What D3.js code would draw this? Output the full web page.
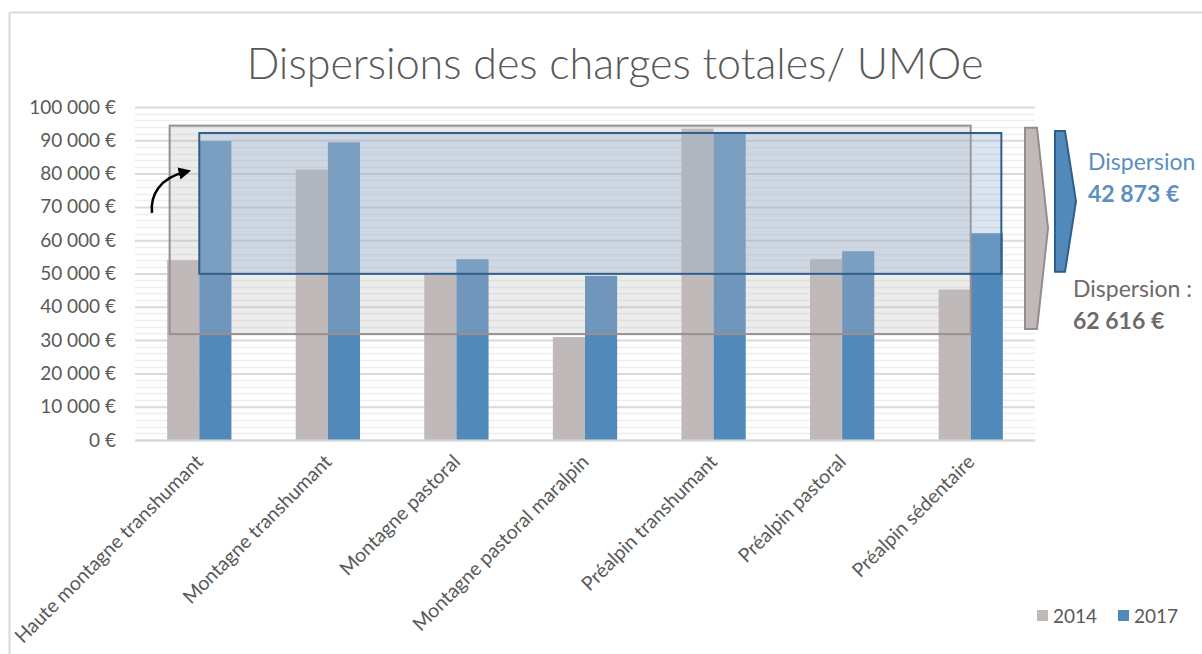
<!DOCTYPE html>
<html>
<head>
<meta charset="utf-8">
<script src="https://cdn.jsdelivr.net/npm/d3@7"></script>
<style>
  body { margin: 0; background: #fff; }
  text { font-family: Lato, "Open Sans", sans-serif; }
</style>
</head>
<body>
<div id="chart"></div>
<script>
// data
const categories = ["Haute montagne transhumant", "Montagne transhumant", "Montagne pastoral",
  "Montagne pastoral maralpin", "Préalpin transhumant", "Préalpin pastoral", "Préalpin sédentaire"]
const years = ["2014", "2017"]
const values2014 = [54000, 81200, 50200, 30900, 93500, 54300, 45200]
const values2017 = [89800, 89400, 54300, 49300, 92200, 56700, 62100]
const yTicks = [0, 10000, 20000, 30000, 40000, 50000, 60000, 70000, 80000, 90000, 100000]
const dispersion2014 = "62 616 €"
const dispersion2017 = "42 873 €"

const W = 1202, H = 654
let margin = {top: 107, right: 167, bottom: 214, left: 135}
let pxX = W - margin.left - margin.right,
    pxY = H - margin.top - margin.bottom

let colors = {"2014": "#bfb9b9", "2017": "#5289bb"}
let series = {"2014": values2014, "2017": values2017}

let svg = d3.select("#chart").append("svg")
    .attr("width", W).attr("height", H)

// chart border (only top/left visible)
svg.append("line").attr("x1", 9.5).attr("x2", W).attr("y1", 12.5).attr("y2", 12.5)
    .attr("stroke", "#d9d9d9").attr("stroke-width", 2)
svg.append("line").attr("x1", 9.5).attr("x2", 9.5).attr("y1", 12.5).attr("y2", H)
    .attr("stroke", "#d9d9d9").attr("stroke-width", 2)

svg.append("text")
    .attr("x", 615).attr("y", 79)
    .attr("text-anchor", "middle")
    .attr("font-size", 43).attr("font-weight", 300)
    .attr("fill", "#595959")
    .text("Dispersions des charges totales/ UMOe")

let g = svg.append("g").attr("transform", `translate(${margin.left},${margin.top})`)

let scX = d3.scaleBand().domain(categories).range([0, pxX]).paddingInner(0.5).paddingOuter(0.25)
let scY = d3.scaleLinear().domain([0, 100000]).range([pxY, 0])

// minor grid every 2000
let minor = d3.range(0, 100001, 2000).filter(v => v % 10000 !== 0)
g.append("g").selectAll("line").data(minor).enter().append("line")
    .attr("x1", 0).attr("x2", pxX)
    .attr("y1", d => Math.round(scY(d)) + 0.5).attr("y2", d => Math.round(scY(d)) + 0.5)
    .attr("stroke", "#eeeeee").attr("stroke-width", 1.5)

// major grid
const yGrid = d3.axisLeft(scY).tickValues(yTicks).tickSize(-pxX).tickFormat("")
g.append("g").call(yGrid)
    .call(a => a.select(".domain").remove())
    .selectAll("line").attr("stroke", "#d9d9d9").attr("stroke-width", 2)

// y labels
const fr = d3.formatLocale({decimal: ",", thousands: " ", grouping: [3], currency: ["", " €"]})
const yAxis = d3.axisLeft(scY).tickValues(yTicks).tickSize(0).tickPadding(19).tickFormat(fr.format("$,.0f"))
g.append("g").call(yAxis)
    .call(a => a.select(".domain").remove())
    .selectAll("text")
    .attr("font-family", "Lato, sans-serif")
    .attr("font-size", 19).attr("fill", "#595959")

// bars
let scSub = d3.scaleBand().domain(years).range([0, scX.bandwidth()])
years.forEach(yr => {
    g.append("g").selectAll("rect")
        .data(series[yr])
        .enter()
        .append("rect")
        .attr("x", (d, i) => scX(categories[i]) + scSub(yr))
        .attr("width", scSub.bandwidth())
        .attr("y", d => scY(d))
        .attr("height", d => pxY - scY(d))
        .attr("fill", colors[yr])
})

// x labels
const xAxis = d3.axisBottom(scX).tickSize(0).tickPadding(0)
g.append("g").attr("transform", `translate(0,${pxY})`).call(xAxis)
    .call(a => a.select(".domain").attr("stroke", "#d9d9d9").attr("stroke-width", 2))
    .selectAll("text")
    .attr("font-family", "Lato, sans-serif")
    .attr("font-size", 19.5).attr("fill", "#595959")
    .attr("text-anchor", "end")
    .attr("dy", 0)
    .attr("transform", "translate(5,23) rotate(-45)")

// dispersion boxes, from the min / max of each series
let [min14, max14] = d3.extent(values2014)
let [min17, max17] = d3.extent(values2017)
let first = scX(categories[0]), last = scX(categories[categories.length - 1])

g.append("rect")
    .attr("x", first + 2.5).attr("y", scY(max14) - 3)
    .attr("width", last + scSub.bandwidth() - first - 2.5)
    .attr("height", scY(min14) - scY(max14))
    .attr("fill", "#bdb9b9").attr("fill-opacity", 0.28)
    .attr("stroke", "#9a8f8e").attr("stroke-width", 2)

g.append("rect")
    .attr("x", first + scSub.bandwidth()).attr("y", scY(max17))
    .attr("width", last + scX.bandwidth() - first - scSub.bandwidth() - 1.5)
    .attr("height", scY(min17) - scY(max17) - 2)
    .attr("fill", "#91b1cd").attr("fill-opacity", 0.33)
    .attr("stroke", "#2e5f8a").attr("stroke-width", 2)

// curved arrow
svg.append("defs").append("marker")
    .attr("id", "head").attr("viewBox", "0 0 10 10")
    .attr("refX", 5).attr("refY", 5)
    .attr("markerWidth", 5).attr("markerHeight", 5)
    .attr("orient", "auto")
    .append("path").attr("d", "M0,0L10,5L0,10z").attr("fill", "#000")
svg.append("path")
    .attr("d", "M152,213 C150,195 160,178 185,172")
    .attr("fill", "none").attr("stroke", "#000").attr("stroke-width", 2.5)
    .attr("marker-end", "url(#head)")

// side chevrons
function chevron(x0, x1, x2, yTop, yBot) {
    let ym = (yTop + yBot) / 2
    return `M${x0},${yTop}L${x1},${yTop}L${x2},${ym}L${x1},${yBot}L${x0},${yBot}Z`
}
let yT14 = margin.top + scY(max14) - 1, yB14 = margin.top + scY(min14) - 8
svg.append("path").attr("d", chevron(1025, 1037, 1048, yT14, yB14))
    .attr("fill", "#bfb9b9").attr("stroke", "#968c8b").attr("stroke-width", 2)
let yT17 = margin.top + scY(max17) - 2, yB17 = margin.top + scY(min17) - 4
svg.append("path").attr("d", chevron(1055, 1065, 1076, yT17, yB17))
    .attr("fill", "#5289bb").attr("stroke", "#2e5f8a").attr("stroke-width", 2)

svg.append("text").attr("x", 1088).attr("y", 170)
    .attr("font-size", 23).attr("fill", "#5b8fc0").text("Dispersion")
svg.append("text").attr("x", 1088).attr("y", 202)
    .attr("font-size", 23).attr("font-weight", "bold").attr("fill", "#5b8fc0").text(dispersion2017)
svg.append("text").attr("x", 1073).attr("y", 297)
    .attr("font-size", 23).attr("fill", "#6f6968").text("Dispersion :")
svg.append("text").attr("x", 1073).attr("y", 329)
    .attr("font-size", 23).attr("font-weight", "bold").attr("fill", "#6f6968").text(dispersion2014)

// legend
let leg = svg.append("g").attr("transform", "translate(1037,610)")
years.forEach((yr, i) => {
    let item = leg.append("g").attr("transform", `translate(${i * 81},0)`)
    item.append("rect").attr("width", 11).attr("height", 11).attr("fill", colors[yr])
    item.append("text").attr("x", 16).attr("y", 12.5)
        .attr("font-size", 19).attr("fill", "#595959").text(yr)
})
</script>
</body>
</html>
